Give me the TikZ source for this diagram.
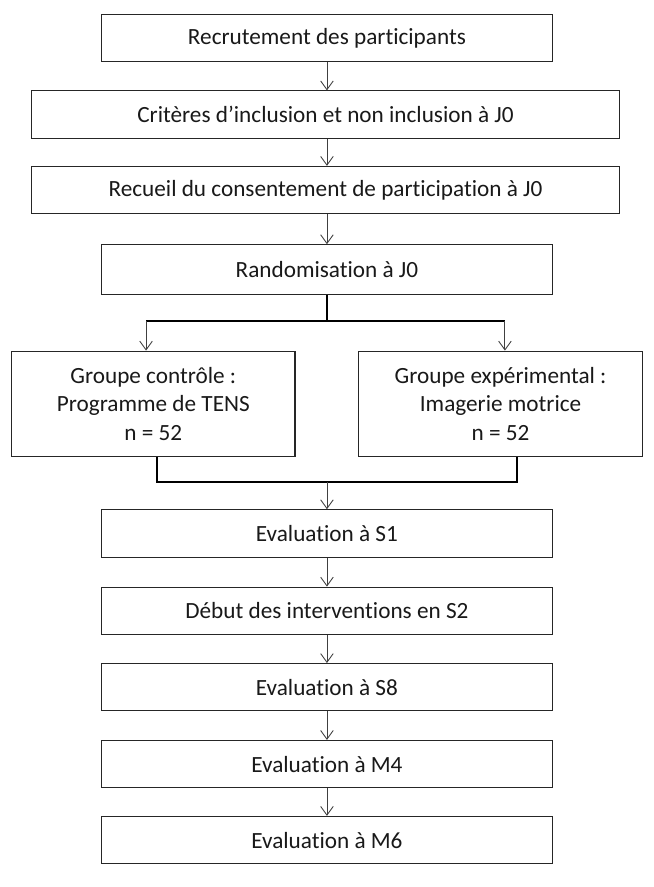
\documentclass[tikz,border=0pt]{standalone}
\usepackage{fontspec}
\setmainfont{Carlito}[Ligatures=NoCommon]
\usetikzlibrary{arrows.meta}
\begin{document}
\begin{tikzpicture}[x=1pt,y=-1pt,
  box/.style={draw=black!85, line width=1.1pt, inner sep=0pt, align=center,
    font=\fontsize{24}{29.3}\selectfont, text=black!90},
  narrow/.style={box, minimum width=466pt, minimum height=49pt},
  wide/.style={box, minimum width=607pt, minimum height=49pt},
  group/.style={box, minimum width=293pt, minimum height=109pt},
  flow/.style={draw=black!75, line width=0.9pt, -{Straight Barb[length=9pt,width=13pt]}},
  joint/.style={draw=black, line width=2pt}]
\useasboundingbox (0,0) rectangle (676,917);
\fill[white] (0,0) rectangle (676,917);
\node[narrow] (b1) at (338,39.5) {Recrutement des participants};
\node[wide] (b2) at (336.5,118.5) {Critères d’inclusion et non inclusion à J0};
\node[wide] (b3) at (336.5,196.5) {Recueil du consentement de participation à J0};
\node[narrow, minimum height=51pt] (b4) at (338,278.5) {Randomisation à J0};
\node[group] (gl) at (158.5,417.5) {Groupe contrôle :\\Programme de TENS\\n = 52};
\node[group] (gr) at (517.5,417.5) {Groupe expérimental :\\Imagerie motrice\\n = 52};
\node[narrow] (s1) at (338,551.5) {Evaluation à S1};
\node[narrow] (deb) at (338,631.5) {Début des interventions en S2};
\node[narrow] (s8) at (338,710.5) {Evaluation à S8};
\node[narrow] (m4) at (338,790) {Evaluation à M4};
\node[narrow] (m6) at (338,868.5) {Evaluation à M6};
% split
\coordinate (sp) at (338,332);
\coordinate (spl) at (151,332);
\coordinate (spr) at (522,332);
\draw[joint] (b4.south) -- (sp);
\draw[joint] (spl) -- (spr);
\draw[flow] (spl) -- (spl |- gl.north);
\draw[flow] (spr) -- (spr |- gr.north);
% merge
\coordinate (ml) at (162,498);
\coordinate (mr) at (534,498);
\coordinate (mc) at (338,498);
\draw[joint] (ml |- gl.south) -- (ml) -- (mr) -- (mr |- gr.south);
\draw[flow] (mc) -- (s1.north);
% chain
\draw[flow] (b1.south) -- (b1.south |- b2.north);
\draw[flow] (b1.south |- b2.south) -- (b1.south |- b3.north);
\draw[flow] (b1.south |- b3.south) -- (b4.north);
\draw[flow] (s1.south) -- (deb.north);
\draw[flow] (deb.south) -- (s8.north);
\draw[flow] (s8.south) -- (m4.north);
\draw[flow] (m4.south) -- (m6.north);
\end{tikzpicture}
\end{document}
